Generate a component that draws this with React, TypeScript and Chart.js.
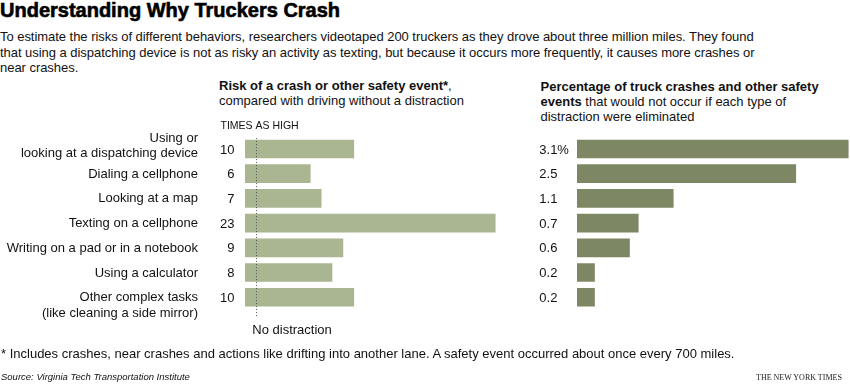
import React, { useEffect, useRef } from "react";
import { Chart, registerables } from "chart.js";

Chart.register(...registerables);

// ---------- data ----------
const categories: string[][] = [
  ["Using or", "looking at a dispatching device"],
  ["Dialing a cellphone"],
  ["Looking at a map"],
  ["Texting on a cellphone"],
  ["Writing on a pad or in a notebook"],
  ["Using a calculator"],
  ["Other complex tasks", "(like cleaning a side mirror)"],
];
const riskTimesAsHigh = [10, 6, 7, 23, 9, 8, 10];
const pctAvoidable = [3.1, 2.5, 1.1, 0.7, 0.6, 0.2, 0.2];
const noDistractionValue = 1;

const titleText = "Understanding Why Truckers Crash";
const introLines = [
  "To estimate the risks of different behaviors, researchers videotaped 200 truckers as they drove about three million miles. They found",
  "that using a dispatching device is not as risky an activity as texting, but because it occurs more frequently, it causes more crashes or",
  "near crashes.",
];
const footnoteText =
  "* Includes crashes, near crashes and actions like drifting into another lane. A safety event occurred about once every 700 miles.";
const sourceText = "Source: Virginia Tech Transportation Institute";
const creditText = "THE NEW YORK TIMES";

// ---------- styles ----------
const SANS = '"Liberation Sans", Arial, Helvetica, sans-serif';
const SERIF = '"Liberation Serif", "Times New Roman", serif';
const LEFT_COLOR = "#aab591";
const RIGHT_COLOR = "#7e8763";
const TEXT = "#111";

const chartLabels = categories.map((c) => c.join(" "));

const commonOptions = (xMax: number, axisWidth: number): any => ({
  indexAxis: "y",
  responsive: false,
  animation: false,
  devicePixelRatio: 1,
  layout: { padding: { top: 136.6, bottom: 80.4, left: 0, right: 0 } },
  plugins: { legend: { display: false }, tooltip: { enabled: false } },
  scales: {
    x: { display: false, min: 0, max: xMax },
    y: {
      display: true,
      ticks: { display: false },
      grid: { display: false },
      border: { display: false },
      afterFit: (a: any) => {
        a.width = axisWidth;
      },
    },
  },
});

const leftPlugin = {
  id: "leftLabels",
  afterDatasetsDraw(chart: any) {
    const { ctx, chartArea, scales } = chart;
    const xs = scales.x;
    const ys = scales.y;
    ctx.save();
    // dotted "no distraction" line
    const dx = Math.round(xs.getPixelForValue(noDistractionValue)) + 0.5;
    ctx.strokeStyle = "#555";
    ctx.lineWidth = 1;
    ctx.setLineDash([1, 2]);
    ctx.beginPath();
    ctx.moveTo(dx, chartArea.top + 1.5);
    ctx.lineTo(dx, chartArea.bottom + 8.5);
    ctx.stroke();
    ctx.setLineDash([]);

    ctx.fillStyle = TEXT;
    ctx.font = `13px ${SANS}`;
    ctx.textBaseline = "middle";
    const lh = 15.4;
    categories.forEach((lines, i) => {
      const cy = ys.getPixelForValue(i);
      // values
      ctx.textAlign = "right";
      ctx.fillText(String(riskTimesAsHigh[i]), chartArea.left - 10.5, cy + 1);
      // category labels
      const firstY = i === 0 ? cy - (lines.length - 1) * lh + 4 : cy;
      lines.forEach((ln, k) => {
        ctx.fillText(ln, chartArea.left - 47, firstY + k * lh + 0.5);
      });
    });

    ctx.textAlign = "left";
    ctx.textBaseline = "alphabetic";
    ctx.font = `10.5px ${SANS}`;
    ctx.fillText("TIMES AS HIGH", chartArea.left - 24.5, chartArea.top - 7.2);
    ctx.font = `13px ${SANS}`;
    ctx.fillText("No distraction", dx - 4.2, chartArea.bottom + 24.8);
    ctx.restore();
  },
};

const rightPlugin = {
  id: "rightLabels",
  afterDatasetsDraw(chart: any) {
    const { ctx, chartArea, scales } = chart;
    const ys = scales.y;
    ctx.save();
    ctx.fillStyle = TEXT;
    ctx.font = `13px ${SANS}`;
    ctx.textBaseline = "middle";
    ctx.textAlign = "left";
    pctAvoidable.forEach((v, i) => {
      const cy = ys.getPixelForValue(i);
      const label = i === 0 ? `${v.toFixed(1)}%` : v.toFixed(1);
      ctx.fillText(label, chartArea.left - 37.7, cy + 1);
    });
    ctx.restore();
  },
};

export default function App() {
  const leftRef = useRef<HTMLCanvasElement>(null);
  const rightRef = useRef<HTMLCanvasElement>(null);

  useEffect(() => {
    const left = new Chart(leftRef.current as HTMLCanvasElement, {
      type: "bar",
      data: {
        labels: chartLabels,
        datasets: [
          {
            data: riskTimesAsHigh,
            backgroundColor: LEFT_COLOR,
            borderWidth: 0,
            barThickness: 18,
          },
        ],
      },
      options: commonOptions(25, 245),
      plugins: [leftPlugin],
    } as any);
    const right = new Chart(rightRef.current as HTMLCanvasElement, {
      type: "bar",
      data: {
        labels: chartLabels,
        datasets: [
          {
            data: pctAvoidable,
            backgroundColor: RIGHT_COLOR,
            borderWidth: 0,
            barThickness: 18,
          },
        ],
      },
      options: commonOptions(3.12, 57),
      plugins: [rightPlugin],
    } as any);
    return () => {
      left.destroy();
      right.destroy();
    };
  }, []);

  const abs = (s: React.CSSProperties): React.CSSProperties => ({
    position: "absolute",
    whiteSpace: "nowrap",
    color: TEXT,
    margin: 0,
    ...s,
  });

  return (
    <div
      style={{
        position: "absolute",
        left: 0,
        top: 0,
        width: 850,
        height: 390,
        background: "#fff",
        overflow: "hidden",
        fontFamily: SANS,
      }}
    >
      <div
        style={abs({
          left: 0,
          top: 0,
          font: `bold 20px/20px ${SANS}`,
          color: "#000",
          WebkitTextStroke: "0.6px #000",
        } as any)}
      >
        {titleText}
      </div>
      <div style={abs({ left: 0, top: 29, font: `13px/15.5px ${SANS}`, letterSpacing: "-0.04px" })}>
        {introLines.map((l, i) => (
          <div key={i}>{l}</div>
        ))}
      </div>
      <div style={abs({ left: 219, top: 77.5, font: `13px/15.3px ${SANS}` })}>
        <div>
          <b>Risk of a crash or other safety event*</b>,
        </div>
        <div>compared with driving without a distraction</div>
      </div>
      <div style={abs({ left: 540.5, top: 78.5, font: `13px/15px ${SANS}` })}>
        <div>
          <b>Percentage of truck crashes and other safety</b>
        </div>
        <div>
          <b>events</b> that would not occur if each type of
        </div>
        <div>distraction were eliminated</div>
      </div>

      <canvas
        ref={leftRef}
        width={517}
        height={390}
        style={{ position: "absolute", left: 0, top: 0, width: 517, height: 390 }}
      />
      <canvas
        ref={rightRef}
        width={330}
        height={390}
        style={{ position: "absolute", left: 520, top: 0, width: 330, height: 390 }}
      />

      <div style={abs({ left: 1, top: 346, font: `13px/15px ${SANS}` })}>{footnoteText}</div>
      <div style={abs({ left: 1, top: 371, font: `italic 9.5px/12px ${SANS}` })}>{sourceText}</div>
      <div style={abs({ left: 756, top: 372, font: `8px/12px ${SERIF}`, color: "#222" })}>{creditText}</div>
    </div>
  );
}
